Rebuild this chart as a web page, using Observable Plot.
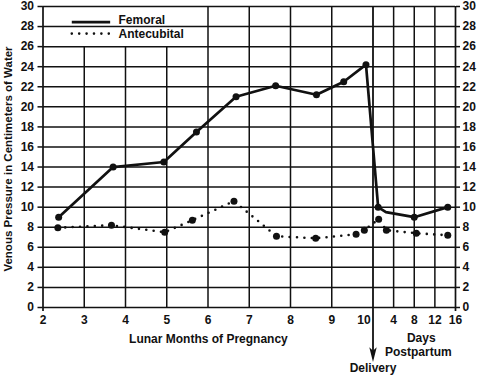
<!DOCTYPE html>
<html><head><meta charset="utf-8">
<script src="https://cdn.jsdelivr.net/npm/d3@7"></script>
<script src="https://cdn.jsdelivr.net/npm/@observablehq/plot@0.6"></script>
<style>body{margin:0;background:#fff}#chart svg{display:block}</style>
</head><body><div id="chart"></div>
<script>
// ---- data ----
const monthTicks = [2, 3, 4, 5, 6, 7, 8, 9, 10];
const dayTicks = [4, 8, 12, 16];
const yTicks = [0, 2, 4, 6, 8, 10, 12, 14, 16, 18, 20, 22, 24, 26, 28, 30];
const seriesNames = ["Femoral", "Antecubital"];

// Femoral: pregnancy (lunar months) and postpartum (days)
const femoralMonths = [2.38, 3.70, 4.93, 5.72, 6.68, 7.64, 8.63, 9.29, 9.83];
const femoralMonthVals = [9.0, 14.0, 14.5, 17.5, 21.0, 22.1, 21.2, 22.5, 24.2];
const femoralDays = [1.0, 2.5, 8.0, 14.5];
const femoralDayVals = [10.0, 9.5, 9.0, 10.0];
const femoralDayMarked = [true, false, true, true];

// Antecubital
const antMonths = [2.36, 3.66, 4.95, 5.62, 6.63, 7.66, 8.61, 9.59, 9.79];
const antMonthVals = [7.95, 8.2, 7.5, 8.7, 10.6, 7.1, 6.9, 7.3, 7.7];
const antDays = [1.1, 2.6, 8.4, 14.5];
const antDayVals = [8.8, 7.7, 7.4, 7.2];

// ---- composite x position: months up to delivery (10), then days / 8 ----
const deliveryMonth = 10;
const dayPos = d => deliveryMonth + d / 8;

const femoral = femoralMonths.map((m, i) => ({x: m, y: femoralMonthVals[i], marked: true}))
  .concat(femoralDays.map((d, i) => ({x: dayPos(d), y: femoralDayVals[i], marked: femoralDayMarked[i]})));
const antecubital = antMonths.map((m, i) => ({x: m, y: antMonthVals[i]}))
  .concat(antDays.map((d, i) => ({x: dayPos(d), y: antDayVals[i]})));

const gridX = monthTicks.filter(m => m > 2 && m < 10).concat(dayTicks.slice(0, 3).map(dayPos));

const arrowHead = {
  draw(ctx, size) {
    const s = Math.sqrt(size);
    ctx.moveTo(0, s * 0.9);
    ctx.lineTo(-s * 0.38, -s * 0.6);
    ctx.lineTo(0, -s * 0.25);
    ctx.lineTo(s * 0.38, -s * 0.6);
    ctx.closePath();
  }
};

const ink = "#111";
const chart = Plot.plot({
  width: 482,
  height: 376,
  marginLeft: 42.5,
  marginRight: 27,
  marginTop: 6,
  marginBottom: 69,
  style: {fontFamily: "'Liberation Sans', Arial, sans-serif", fontSize: "12px", fontWeight: "bold", color: "#111", background: "#fff"},
  x: {domain: [2, 12], axis: null},
  y: {domain: [0, 30], axis: null},
  marks: [
    Plot.ruleY(yTicks, {x1: 2, x2: 12, stroke: ink, strokeWidth: 1.5}),
    Plot.ruleX(gridX, {y1: 0, y2: d => d < 5.9 ? 26 : 30, stroke: ink, strokeWidth: 1.5}),
    Plot.ruleX([2, 12], {y1: -0.4, y2: 30, stroke: ink, strokeWidth: 1.7}),
    Plot.ruleX([deliveryMonth], {y1: 30, y2: -4.4, stroke: ink, strokeWidth: 1.8}),
    Plot.dot([deliveryMonth], {x: d => d, y: -4.55, symbol: arrowHead, r: 5.5, fill: ink, stroke: "none"}),
    Plot.axisY(yTicks, {anchor: "left", label: null, tickSize: 5, tickPadding: 4, strokeWidth: 1.5, fontSize: 12}),
    Plot.axisY(yTicks, {anchor: "right", label: null, tickSize: 4, tickPadding: 3, strokeWidth: 1.5, fontSize: 12}),
    // series
    Plot.line(antecubital, {x: "x", y: "y", stroke: ink, strokeWidth: 2.6, strokeLinecap: "round", strokeDasharray: "0 7.4"}),
    Plot.dot(antecubital, {x: "x", y: "y", r: 3.5, fill: ink, stroke: "none"}),
    Plot.line(femoral, {x: "x", y: "y", stroke: ink, strokeWidth: 2.7, strokeLinejoin: "round"}),
    Plot.dot(femoral.filter(d => d.marked), {x: "x", y: "y", r: 3.5, fill: ink, stroke: "none"}),
    // legend
    Plot.ruleY([28.45], {x1: 2.71, x2: 3.64, stroke: ink, strokeWidth: 2.8}),
    Plot.ruleY([27.3], {x1: 2.71, x2: 3.64, stroke: ink, strokeWidth: 2.6, strokeLinecap: "round", strokeDasharray: "0 7.4"}),
    Plot.text(seriesNames, {x: 3.83, y: (d, i) => [28.65, 27.2][i], text: d => d, textAnchor: "start", fontSize: 12, fontWeight: "bold", fill: ink}),
    // x tick labels
    Plot.text(monthTicks.filter(m => m < 10), {x: d => d, y: 0, text: d => String(d), dy: 13, fontSize: 12, fill: ink}),
    Plot.text(monthTicks.filter(m => m === 10), {x: d => d, y: 0, text: d => String(d), dy: 13, dx: -9, fontSize: 12, fill: ink}),
    Plot.text(dayTicks, {x: dayPos, y: 0, text: d => String(d), dy: 13, fontSize: 12, fill: ink}),
    // titles
    Plot.text(["Lunar Months of Pregnancy"], {x: 6.01, y: 0, text: d => d, dy: 32, fontSize: 12, fill: ink}),
    Plot.text(["Days"], {x: 11.17, y: 0, text: d => d, dy: 31, fontSize: 12, fill: ink}),
    Plot.text(["Postpartum"], {x: 11.1, y: 0, text: d => d, dy: 45, fontSize: 12, fill: ink}),
    Plot.text(["Delivery"], {x: deliveryMonth, y: 0, text: d => d, dy: 61, fontSize: 12, fill: ink}),
    Plot.text(["Venous Pressure in Centimeters of Water"], {x: 2, y: 14.8, text: d => d, rotate: -90, dx: -34.5, fontSize: 11.5, fill: ink})
  ]
});
document.getElementById("chart").appendChild(chart);
</script>
</body></html>
